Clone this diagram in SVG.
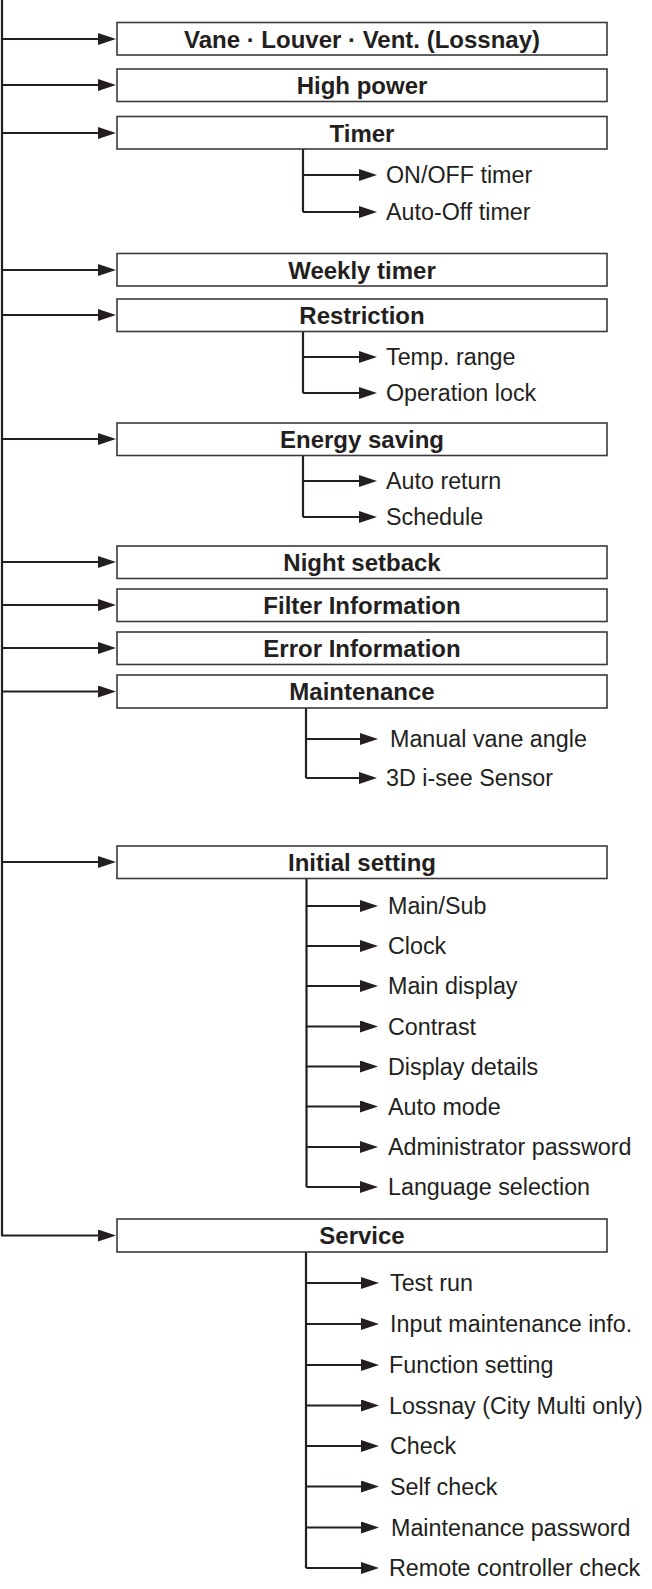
<svg xmlns="http://www.w3.org/2000/svg" width="652" height="1589" viewBox="0 0 652 1589">
<style>
.box{fill:#fff;stroke:#3a3a3a;stroke-width:1.6}
.conn{stroke:#231f20;stroke-width:2.2;fill:none}
.t1{font-family:"Liberation Sans",Arial,sans-serif;font-weight:bold;font-size:24px;fill:#231f20;text-anchor:middle}
.t2{font-family:"Liberation Sans",Arial,sans-serif;font-size:23.3px;fill:#231f20}
</style>
<defs>
<marker id="ah" viewBox="0 0 18 12" refX="12" refY="6" markerWidth="18" markerHeight="12" markerUnits="userSpaceOnUse" orient="auto">
<path d="M0,0 L18,6 L0,12 z" fill="#231f20"/>
</marker>
</defs>
<rect width="652" height="1589" fill="#fff"/>
<g id="connectors" class="conn">
<path d="M2,0 V1235.5"/>
<path d="M1,39 H110" marker-end="url(#ah)"/>
<path d="M1,85 H110" marker-end="url(#ah)"/>
<path d="M1,133 H110" marker-end="url(#ah)"/>
<path d="M1,270 H110" marker-end="url(#ah)"/>
<path d="M1,315 H110" marker-end="url(#ah)"/>
<path d="M1,439 H110" marker-end="url(#ah)"/>
<path d="M1,562 H110" marker-end="url(#ah)"/>
<path d="M1,605 H110" marker-end="url(#ah)"/>
<path d="M1,648 H110" marker-end="url(#ah)"/>
<path d="M1,691.5 H110" marker-end="url(#ah)"/>
<path d="M1,862 H110" marker-end="url(#ah)"/>
<path d="M1,1235.5 H110" marker-end="url(#ah)"/>
<!-- Timer -->
<path d="M303,149 V212"/>
<path d="M303,175 H371" marker-end="url(#ah)"/>
<path d="M303,212 H371" marker-end="url(#ah)"/>
<!-- Restriction -->
<path d="M303,331.5 V393"/>
<path d="M303,357 H371" marker-end="url(#ah)"/>
<path d="M303,393 H371" marker-end="url(#ah)"/>
<!-- Energy saving -->
<path d="M303,455.5 V517"/>
<path d="M303,481 H371" marker-end="url(#ah)"/>
<path d="M303,517 H371" marker-end="url(#ah)"/>
<!-- Maintenance -->
<path d="M306,708 V778"/>
<path d="M306,739 H372" marker-end="url(#ah)"/>
<path d="M306,778 H371" marker-end="url(#ah)"/>
<!-- Initial setting -->
<path d="M306.5,878.5 V1187"/>
<path d="M306.5,906 H372" marker-end="url(#ah)"/>
<path d="M306.5,946 H372" marker-end="url(#ah)"/>
<path d="M306.5,986 H372" marker-end="url(#ah)"/>
<path d="M306.5,1026.5 H372" marker-end="url(#ah)"/>
<path d="M306.5,1066.5 H372" marker-end="url(#ah)"/>
<path d="M306.5,1106.5 H372" marker-end="url(#ah)"/>
<path d="M306.5,1147 H372" marker-end="url(#ah)"/>
<path d="M306.5,1187 H372" marker-end="url(#ah)"/>
<!-- Service -->
<path d="M306,1252 V1568"/>
<path d="M306,1283 H373" marker-end="url(#ah)"/>
<path d="M306,1324 H373" marker-end="url(#ah)"/>
<path d="M306,1365 H373" marker-end="url(#ah)"/>
<path d="M306,1405.5 H373" marker-end="url(#ah)"/>
<path d="M306,1446 H373" marker-end="url(#ah)"/>
<path d="M306,1486.5 H373" marker-end="url(#ah)"/>
<path d="M306,1527.5 H373" marker-end="url(#ah)"/>
<path d="M306,1568 H373" marker-end="url(#ah)"/>
</g>
<g id="n-vane"><rect class="box" x="117" y="22.5" width="490" height="32.5"/><text class="t1" x="362" y="47.5">Vane · Louver · Vent. (Lossnay)</text></g>
<g id="n-highpower"><rect class="box" x="117" y="69" width="490" height="32.5"/><text class="t1" x="362" y="94">High power</text></g>
<g id="n-timer"><rect class="box" x="117" y="116.5" width="490" height="32.5"/><text class="t1" x="362" y="141.5">Timer</text></g>
<g id="n-onoff"><text class="t2" x="386" y="183">ON/OFF timer</text></g>
<g id="n-autooff"><text class="t2" x="386" y="220">Auto-Off timer</text></g>
<g id="n-weekly"><rect class="box" x="117" y="253.5" width="490" height="32.5"/><text class="t1" x="362" y="278.5">Weekly timer</text></g>
<g id="n-restriction"><rect class="box" x="117" y="299" width="490" height="32.5"/><text class="t1" x="362" y="324">Restriction</text></g>
<g id="n-temprange"><text class="t2" x="386" y="365">Temp. range</text></g>
<g id="n-oplock"><text class="t2" x="386" y="401">Operation lock</text></g>
<g id="n-energy"><rect class="box" x="117" y="423" width="490" height="32.5"/><text class="t1" x="362" y="448">Energy saving</text></g>
<g id="n-autoreturn"><text class="t2" x="386" y="489">Auto return</text></g>
<g id="n-schedule"><text class="t2" x="386" y="525">Schedule</text></g>
<g id="n-night"><rect class="box" x="117" y="546" width="490" height="32.5"/><text class="t1" x="362" y="571">Night setback</text></g>
<g id="n-filter"><rect class="box" x="117" y="589" width="490" height="32.5"/><text class="t1" x="362" y="614">Filter Information</text></g>
<g id="n-error"><rect class="box" x="117" y="632" width="490" height="32.5"/><text class="t1" x="362" y="657">Error Information</text></g>
<g id="n-maint"><rect class="box" x="117" y="675" width="490" height="33"/><text class="t1" x="362" y="700">Maintenance</text></g>
<g id="n-manualvane"><text class="t2" x="390" y="747">Manual vane angle</text></g>
<g id="n-3d"><text class="t2" x="386" y="786">3D i-see Sensor</text></g>
<g id="n-initial"><rect class="box" x="117" y="846" width="490" height="32.5"/><text class="t1" x="362" y="871">Initial setting</text></g>
<g id="n-mainsub"><text class="t2" x="388" y="914">Main/Sub</text></g>
<g id="n-clock"><text class="t2" x="388" y="954">Clock</text></g>
<g id="n-maindisp"><text class="t2" x="388" y="994">Main display</text></g>
<g id="n-contrast"><text class="t2" x="388" y="1034.5">Contrast</text></g>
<g id="n-dispdetails"><text class="t2" x="388" y="1074.5">Display details</text></g>
<g id="n-automode"><text class="t2" x="388" y="1114.5">Auto mode</text></g>
<g id="n-adminpw"><text class="t2" x="388" y="1155">Administrator password</text></g>
<g id="n-lang"><text class="t2" x="388" y="1195">Language selection</text></g>
<g id="n-service"><rect class="box" x="117" y="1219" width="490" height="33"/><text class="t1" x="362" y="1244">Service</text></g>
<g id="n-testrun"><text class="t2" x="390" y="1291">Test run</text></g>
<g id="n-inputmaint"><text class="t2" x="390" y="1332">Input maintenance info.</text></g>
<g id="n-funcset"><text class="t2" x="389" y="1373">Function setting</text></g>
<g id="n-lossnay"><text class="t2" x="389" y="1413.5">Lossnay (City Multi only)</text></g>
<g id="n-check"><text class="t2" x="390" y="1454">Check</text></g>
<g id="n-selfcheck"><text class="t2" x="390" y="1494.5">Self check</text></g>
<g id="n-maintpw"><text class="t2" x="391" y="1535.5">Maintenance password</text></g>
<g id="n-remote"><text class="t2" x="389" y="1576">Remote controller check</text></g>
</svg>
